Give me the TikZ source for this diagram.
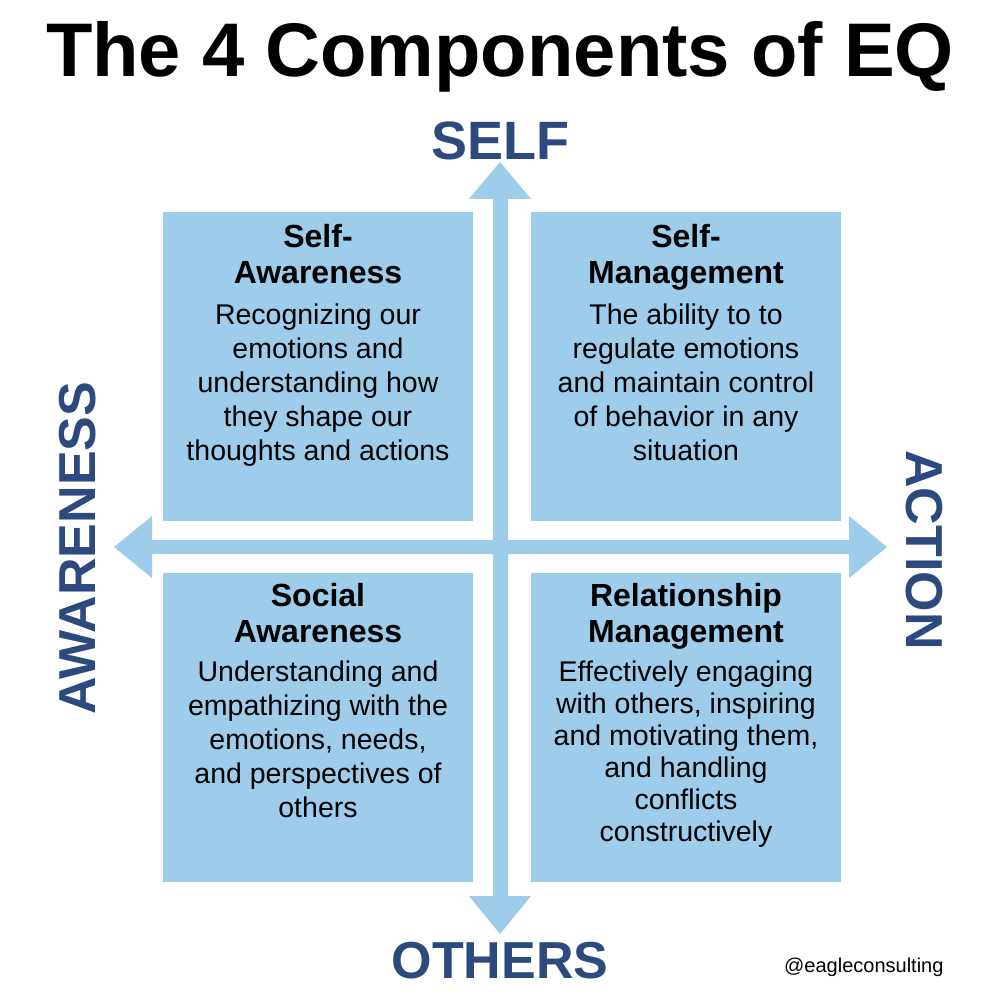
\documentclass[tikz,border=0pt]{standalone}
\usepackage{fontspec}
\setmainfont{Liberation Sans}
\usetikzlibrary{positioning}
\definecolor{quadblue}{HTML}{9DCDEA}
\definecolor{axisink} {HTML}{2C4A7E}
\tikzset{
  % --- nodes
  quad/.style    = {fill=quadblue, minimum width=310pt, minimum height=309pt,
                    inner sep=0pt, outer sep=0pt},
  quadhead/.style= {align=center, inner sep=0pt, font=\fontsize{32}{36}\selectfont\bfseries},
  quadbody/.style= {align=center, inner sep=0pt, font=\fontsize{28.5}{34}\selectfont},
  axislbl/.style = {text=axisink, inner sep=0pt, font=\fontsize{52}{60}\selectfont\bfseries},
  % --- axes
  axisbar/.style = {fill=quadblue},
}
\begin{document}
\begin{tikzpicture}[x=1pt,y=-1pt]
  \fill[white] (0,0) rectangle (1000,1000);
  \useasboundingbox (0,0) rectangle (1000,1000);

  % title
  \node[anchor=base, font=\fontsize{76}{80}\selectfont\bfseries] (title) at (500,77)
    {The 4 Components of EQ};

  % axes
  \fill[axisbar] (500,162) -- (531,199) -- (508,199) -- (508,896) -- (531,896)
    -- (500,934) -- (469,896) -- (493,896) -- (493,199) -- (469,199) -- cycle;
  \fill[axisbar] (114,547) -- (152,516) -- (152,540) -- (849,540) -- (849,516)
    -- (887,547) -- (849,578) -- (849,554) -- (152,554) -- (152,578) -- cycle;

  % axis labels
  \node[axislbl, anchor=base, font=\fontsize{54}{60}\selectfont\bfseries] (self) at (500,160) {SELF};
  \node[axislbl, anchor=base] (others) at (500,978) {OTHERS};
  \node[axislbl, anchor=base, rotate=90] (aware) at (95,548) {AWARENESS};
  \node[axislbl, anchor=base, rotate=-90] (action) at (906,550) {ACTION};

  % quadrants
  \node[quad, anchor=north west] (sa) at (163,212) {};
  \node[quad, anchor=north west] (sm) at (531,212) {};
  \node[quad, anchor=north west] (soa) at (163,573) {};
  \node[quad, anchor=north west] (rm) at (531,573) {};

  \node[quadhead, below=12pt of sa.north] (sahead) {Self-\\Awareness};
  \node[quadbody, below=92pt of sa.north] (satext)
    {Recognizing our\\emotions and\\understanding how\\they shape our\\thoughts and actions};

  \node[quadhead, below=12pt of sm.north] (smhead) {Self-\\Management};
  \node[quadbody, below=92pt of sm.north] (smtext)
    {The ability to to\\regulate emotions\\and maintain control\\of behavior in any\\situation};

  \node[quadhead, below=10pt of soa.north] (soahead) {Social\\Awareness};
  \node[quadbody, below=88pt of soa.north] (soatext)
    {Understanding and\\empathizing with the\\emotions, needs,\\and perspectives of\\others};

  \node[quadhead, below=10pt of rm.north] (rmhead) {Relationship\\Management};
  \node[quadbody, below=88pt of rm.north, font=\fontsize{28.5}{32}\selectfont] (rmtext)
    {Effectively engaging\\with others, inspiring\\and motivating them,\\and handling\\conflicts\\constructively};

  % tag
  \node[anchor=base east, font=\fontsize{20}{24}\selectfont] (tag) at (947,972) {@eagleconsulting};
\end{tikzpicture}
\end{document}
